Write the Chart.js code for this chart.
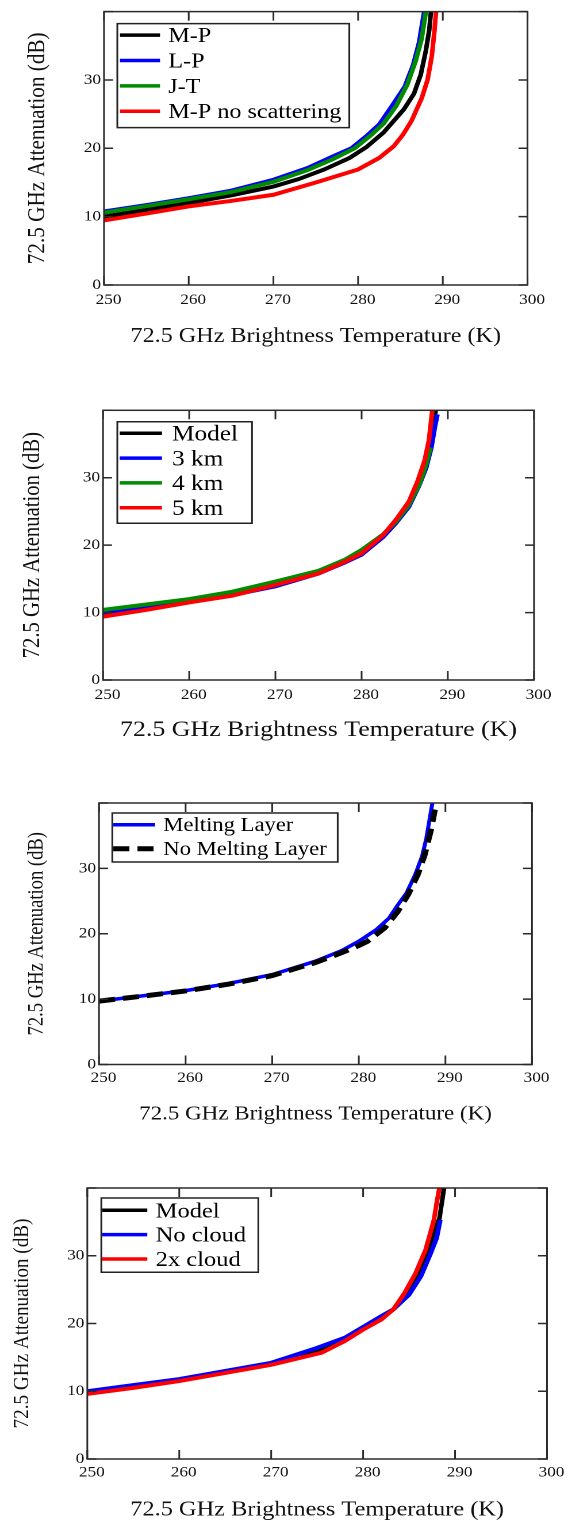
<!DOCTYPE html>
<html><head><meta charset="utf-8">
<script src="https://cdn.jsdelivr.net/npm/chart.js@4.4.1/dist/chart.umd.min.js"></script>
<style>
html,body{margin:0;padding:0;background:#fff;}
body{width:568px;height:1524px;overflow:hidden;position:relative;}
.panel{position:absolute;left:0;transform-origin:0 0;}
</style></head><body>
<div class="panel" id="w1"><canvas id="c1"></canvas></div>
<div class="panel" id="w2"><canvas id="c2"></canvas></div>
<div class="panel" id="w3"><canvas id="c3"></canvas></div>
<div class="panel" id="w4"><canvas id="c4"></canvas></div>
<script>
// ---------- data ----------
const tempTicks = [250, 260, 270, 280, 290, 300];
const attenTicks = [0, 10, 20, 30];
const xTitle = '72.5 GHz Brightness Temperature (K)';
const yTitle = '72.5 GHz Attenuation (dB)';

// Panel 1
const p1Labels = ['M-P', 'L-P', 'J-T', 'M-P no scattering'];
const p1_MP_T = [250,255,260,265,270,273,276,279,281,283,285.4,286.6,287.4,288.0,288.4,288.6];
const p1_MP_A = [10.0,11.0,12.0,13.1,14.4,15.5,16.9,18.6,20.2,22.3,25.7,28.0,30.8,34.3,37.3,40];
const p1_LP_T = [250,255,260,265,270,274,277,279.2,281,282.5,284,285.5,286.5,287.2,287.8];
const p1_LP_A = [10.75,11.7,12.7,13.8,15.4,17.1,18.8,20.0,21.8,23.5,26.2,29.0,32.2,35.5,40];
const p1_JT_T = [250,255,260,265,270,274,277,279.6,281.5,283,284.5,285.8,286.8,287.5,288.0];
const p1_JT_A = [10.6,11.55,12.55,13.6,15.1,16.8,18.4,20.0,21.9,23.6,26.2,29.3,32.8,36.0,40];
const p1_NS_T = [250,255,260,265,270,275,280,282.5,284.2,285.3,286.3,287.5,288.2,288.7,289.0,289.2];
const p1_NS_A = [9.45,10.45,11.5,12.3,13.2,15.0,16.9,18.6,20.3,22.0,24.0,27.3,30.0,33.5,37.0,40];

// Panel 2
const p2Labels = ['Model', '3 km', '4 km', '5 km'];
const p2_Model_T = [250,255,260,265,270,275,278,280,282.5,284,285.5,286.8,287.6,288.2,288.6];
const p2_Model_A = [9.9,10.8,11.7,12.7,14.1,15.9,17.5,18.8,21.4,23.6,26.3,30.0,33.5,37.0,40];
const p2_3km_T = [250,255,260,265,270,275,278,280,282.5,284,285.5,286.7,287.5,288.1,288.5,288.8];
const p2_3km_A = [9.9,10.8,11.6,12.6,13.9,15.8,17.4,18.6,21.2,23.3,25.7,28.9,31.5,34.5,37.5,39.4];
const p2_4km_T = [250,255,260,265,270,275,278,280,282.5,284,285.5,286.7,287.5,288.0];
const p2_4km_A = [10.4,11.2,12.0,13.1,14.6,16.2,17.8,19.3,21.6,23.5,26.0,29.0,32.0,34.5];
const p2_5km_T = [250,255,260,265,270,275,278,280,282.5,284,285.5,286.5,287.3,287.8,288.2];
const p2_5km_A = [9.4,10.4,11.5,12.5,14.1,15.8,17.5,18.8,21.5,23.8,26.5,29.5,32.5,35.5,40];

// Panel 3
const p3Labels = ['Melting Layer', 'No Melting Layer'];
const p3_ML_T = [250,255,260,265,270,275,278,280,282,283.5,284.5,285.5,286.5,287.3,287.8,288.2,288.5];
const p3_ML_A = [9.7,10.5,11.3,12.4,13.75,15.8,17.4,18.85,20.6,22.4,24.4,26.2,29.0,31.8,34.6,37.7,40];
const p3_NML_T = [250,255,260,265,270,275,278,280,281,283,284.5,285.7,286.8,287.6,288.3,288.8];
const p3_NML_A = [9.7,10.45,11.25,12.3,13.6,15.6,17.1,18.2,18.85,20.9,23.4,26.0,29.0,32.0,35.7,39.0];

// Panel 4
const p4Labels = ['Model', 'No cloud', '2x cloud'];
const p4_Model_T = [250,255,260,265,270,275,278,280,282,283.3,284.7,285.9,286.9,287.7,288.3,288.8];
const p4_Model_A = [9.8,10.6,11.6,12.8,14.0,15.9,17.6,19.2,20.8,22.1,24.4,27.3,30.3,33.5,35.5,40];
const p4_NoCloud_T = [250,255,260,265,270,275,278,280,282,283.3,285,286.3,287.3,288.0,288.4];
const p4_NoCloud_A = [10.0,10.9,11.8,13.0,14.2,16.4,17.9,19.5,21.1,22.1,24.25,27.0,30.2,32.6,35.3];
const p4_2x_T = [250,255,260,265,270,275.5,278,280,282,283.3,284.5,285.7,286.8,287.5,287.7,288.0,288.3];
const p4_2x_A = [9.6,10.5,11.5,12.7,13.9,15.7,17.4,19.1,20.6,22.1,24.5,27.4,30.9,34.3,35.3,37.8,40];

// ---------- layout / style ----------
const W = 494;            // chart width in canvas px
const K = 568 / W;        // horizontal stretch of the figure
const FONT = "'Liberation Serif', 'Times New Roman', serif";
Chart.defaults.font.family = FONT;

const BLACK = '#000000', BLUE = '#0000ff', GREEN = '#008b00', RED = '#ff0000';

function series(label, T, A, color, i, extra) {
  return Object.assign({
    label, data: T.map((t, k) => ({x: t, y: A[k]})),
    borderColor: color, backgroundColor: color, borderWidth: 4,
    legendWidth: 3.5,
    pointRadius: 0, tension: 0, fill: false, order: -i
  }, extra || {});
}

const panels = [
  {id: 'c1', wrap: 'w1', top: 0, h: 372, L: 104, R: 527.5, T: 9.3, B: 285, tickGap: 15, titleY: 336.7, titleSize: 21, yTitleX: 38, yTitleSize: 21.2,
   legend: {box: [13.3, 12, 232, 104], row0: 23.5, rowGap: 25.4, line: [16, 56], textX: 64.3, font: 21},
   datasets: [
     series(p1Labels[0], p1_MP_T, p1_MP_A, BLACK, 0),
     series(p1Labels[1], p1_LP_T, p1_LP_A, BLUE, 1),
     series(p1Labels[2], p1_JT_T, p1_JT_A, GREEN, 2),
     series(p1Labels[3], p1_NS_T, p1_NS_A, RED, 3)]},
  {id: 'c2', wrap: 'w2', top: 372, h: 388, L: 103, R: 534, T: 410.3, B: 680, tickGap: 15, titleY: 730, titleSize: 22.5, yTitleX: 32.6, yTitleSize: 20.7,
   legend: {box: [14.3, 11.4, 134.7, 101.6], row0: 23, rowGap: 24.8, line: [16.7, 59], textX: 69, font: 22},
   datasets: [
     series(p2Labels[0], p2_Model_T, p2_Model_A, BLACK, 0),
     series(p2Labels[1], p2_3km_T, p2_3km_A, BLUE, 1),
     series(p2Labels[2], p2_4km_T, p2_4km_A, GREEN, 2),
     series(p2Labels[3], p2_5km_T, p2_5km_A, RED, 3)]},
  {id: 'c3', wrap: 'w3', top: 760, h: 380, L: 99, R: 532, T: 803, B: 1064.5, tickGap: 13.7, titleY: 1114, titleSize: 20, yTitleX: 36.8, yTitleSize: 18.6,
   legend: {box: [13.3, 10, 225.4, 49], row0: 21.7, rowGap: 24, line: [14.3, 56], textX: 64.3, font: 19.7},
   datasets: [
     series(p3Labels[0], p3_ML_T, p3_ML_A, BLUE, 0, {borderWidth: 3.5}),
     series(p3Labels[1], p3_NML_T, p3_NML_A, BLACK, 1, {borderWidth: 5, legendWidth: 5, borderDash: [14, 7]})]},
  {id: 'c4', wrap: 'w4', top: 1140, h: 384, L: 87.3, R: 547, T: 1188, B: 1459, tickGap: 13.7, titleY: 1510, titleSize: 21.2, yTitleX: 22.6, yTitleSize: 19.2,
   legend: {box: [14, 10, 157, 74.3], row0: 22.3, rowGap: 24.35, line: [15, 60], textX: 68.4, font: 21.3},
   datasets: [
     series(p4Labels[0], p4_Model_T, p4_Model_A, BLACK, 0),
     series(p4Labels[1], p4_NoCloud_T, p4_NoCloud_A, BLUE, 1),
     series(p4Labels[2], p4_2x_T, p4_2x_A, RED, 2)]}
];

// frame with inward ticks on all four sides
const frameTicks = {
  id: 'frameTicks',
  afterDatasetsDraw(chart) {
    const {ctx, chartArea: a, scales: {x, y}} = chart;
    ctx.save();
    ctx.setLineDash([]);
    ctx.strokeStyle = '#2b2b2b';
    ctx.lineWidth = 1.5;
    ctx.strokeRect(a.left, a.top, a.right - a.left, a.bottom - a.top);
    ctx.beginPath();
    x.ticks.forEach(t => {
      const p = x.getPixelForValue(t.value);
      ctx.moveTo(p, a.bottom); ctx.lineTo(p, a.bottom - 9);
      ctx.moveTo(p, a.top); ctx.lineTo(p, a.top + 9);
    });
    y.ticks.forEach(t => {
      const p = y.getPixelForValue(t.value);
      ctx.moveTo(a.left, p); ctx.lineTo(a.left + 9 / K, p);
      ctx.moveTo(a.right, p); ctx.lineTo(a.right - 9 / K, p);
    });
    ctx.stroke();
    ctx.restore();
  }
};

// boxed legend inside the plot area
const boxLegend = {
  id: 'boxLegend',
  afterDraw(chart, args, o) {
    if (!o || !o.box) return;
    const {ctx, chartArea: a} = chart;
    const X = v => a.left + v / K;
    const Y = v => a.top + v;
    ctx.save();
    ctx.fillStyle = '#ffffff';
    ctx.strokeStyle = '#222222';
    ctx.lineWidth = 1.5;
    ctx.beginPath();
    ctx.rect(X(o.box[0]), Y(o.box[1]), o.box[2] / K, o.box[3]);
    ctx.fill(); ctx.stroke();
    chart.data.datasets.forEach((ds, i) => {
      const yy = Y(o.row0 + i * o.rowGap);
      ctx.beginPath();
      ctx.setLineDash(ds.borderDash || []);
      ctx.strokeStyle = ds.borderColor;
      ctx.lineWidth = ds.legendWidth || ds.borderWidth;
      ctx.lineCap = 'butt';
      ctx.moveTo(X(o.line[0]), yy); ctx.lineTo(X(o.line[1]), yy);
      ctx.stroke();
      ctx.setLineDash([]);
      ctx.fillStyle = '#000';
      ctx.font = o.font + 'px ' + FONT;
      ctx.textAlign = 'left';
      ctx.textBaseline = 'alphabetic';
      ctx.fillText(ds.label, X(o.textX), yy + 0.33 * o.font);
    });
    ctx.restore();
  }
};

panels.forEach(P => {
  const wrap = document.getElementById(P.wrap);
  wrap.style.top = P.top + 'px';
  wrap.style.width = W + 'px';
  wrap.style.height = P.h + 'px';
  wrap.style.transform = 'scaleX(' + K + ')';
  const cv = document.getElementById(P.id);
  cv.width = W; cv.height = P.h;
  const tickSize = 15;
  new Chart(cv, {
    type: 'line',
    data: {datasets: P.datasets},
    plugins: [frameTicks, boxLegend],
    options: {
      responsive: false,
      animation: false,
      devicePixelRatio: 2,
      events: [],
      layout: {padding: {left: 0, top: P.T - P.top, right: (568 - P.R) / K, bottom: 0}},
      plugins: {
        legend: {display: false},
        tooltip: {enabled: false},
        boxLegend: P.legend
      },
      scales: {
        x: {
          type: 'linear', min: 250, max: 300,
          afterFit: s => { s.height = P.top + P.h - P.B; },
          grid: {display: false, drawTicks: false},
          border: {display: false},
          ticks: {
            stepSize: 10, autoSkip: false, maxRotation: 0, minRotation: 0,
            padding: P.tickGap - tickSize / 2, labelOffset: 4.5 / K,
            font: {size: tickSize, lineHeight: 1}, color: '#111',
            callback: v => tempTicks.includes(v) ? String(v) : ''
          },
          title: {
            display: true, text: xTitle, color: '#111',
            font: {size: P.titleSize, lineHeight: 1},
            padding: {top: 0, bottom: (P.top + P.h - P.titleY) - P.titleSize / 2}
          }
        },
        y: {
          type: 'linear', min: 0, max: 40,
          afterFit: s => { s.width = P.L / K; },
          grid: {display: false, drawTicks: false},
          border: {display: false},
          ticks: {
            stepSize: 10, autoSkip: false, padding: 3 / K,
            font: {size: tickSize}, color: '#111',
            callback: v => attenTicks.includes(v) ? String(v) : ''
          },
          title: {
            display: true, text: yTitle, color: '#111',
            font: {size: P.yTitleSize, lineHeight: 1},
            padding: {top: P.yTitleX / K - P.yTitleSize / 2, bottom: 0}
          }
        }
      }
    }
  });
});
</script>
</body></html>
